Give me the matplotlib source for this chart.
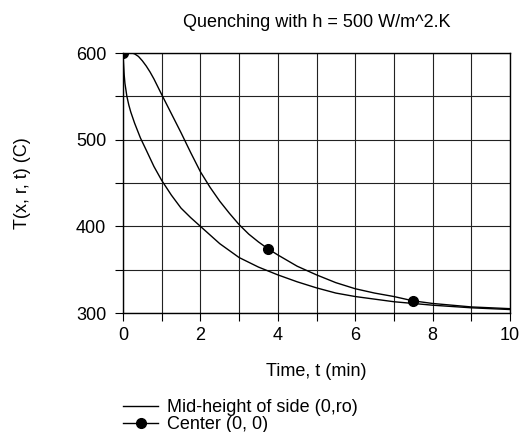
import numpy as np
import matplotlib
matplotlib.use("Agg")
import matplotlib.pyplot as plt

plt.rcParams['font.family'] = ['Liberation Sans', 'DejaVu Sans']

# ==========================
# DATA
# ==========================

title = "Quenching with h = 500 W/m^2.K"
x_label = "Time, t (min)"
y_label = "T(x, r, t) (C)"

side_label = "Mid-height of side (0,ro)"
side_t = [0, 0.01, 0.03, 0.05, 0.1, 0.15, 0.2, 0.3, 0.45, 0.6, 0.8, 1.0,
          1.25, 1.5, 1.75, 2.0, 2.5, 3.0, 3.5, 4.0, 4.5, 5.0, 5.5, 6.0,
          7.0, 8.0, 9.0, 10.0]
side_T = [600, 590, 575, 565, 550, 540, 532, 519, 502, 488, 469, 453,
          436, 421, 410, 400, 380, 364, 353, 344, 336, 329, 323, 319,
          313, 309, 306, 304]

center_label = "Center (0, 0)"
center_t = [0, 0.1, 0.2, 0.3, 0.4, 0.5, 0.6, 0.7, 0.8, 0.9, 1.0, 1.25,
            1.5, 1.75, 2.0, 2.25, 2.5, 2.75, 3.0, 3.25, 3.5, 3.75, 4.0,
            4.5, 5.0, 5.5, 6.0, 6.5, 7.0, 7.5, 8.0, 9.0, 10.0]
center_T = [600, 600.6, 600.5, 599, 596, 591, 585, 578, 570, 561, 552, 530,
            508, 485, 463, 445, 429, 415, 402, 391, 382, 374, 367,
            354, 344, 335, 328, 323, 319, 314, 311, 307, 305]
center_marks = [0, 21, 29]   # points at t = 0, 3.75, 7.5

x_major = [0, 2, 4, 6, 8, 10]
x_minor = [1, 3, 5, 7, 9]
y_major = [300, 400, 500, 600]
y_minor = [350, 450, 550]

# ==========================
# CHART
# ==========================

fs = 13
fig = plt.figure(figsize=(5.2, 4.32), dpi=100)
ax = fig.add_axes([123 / 520, 1 - 313 / 432, 387 / 520, 260 / 432])

ax.plot(side_t, side_T, color='black', lw=1.0, label=side_label)
ax.plot(center_t, center_T, color='black', lw=1.0, marker='o',
        markersize=7, markevery=center_marks, label=center_label)

ax.set_xlim(0, 10)
ax.set_ylim(300, 600)
ax.set_xticks(x_major)
ax.set_xticks(x_minor, minor=True)
ax.set_yticks(y_major)
ax.set_yticks(y_minor, minor=True)
ax.grid(True, which='both', color='#222222', lw=0.8)
ax.tick_params(which='both', direction='out', length=6, width=0.8,
               labelsize=fs)
ax.tick_params(axis='x', pad=4)
ax.tick_params(axis='y', pad=6)
for s in ax.spines.values():
    s.set_linewidth(1.0)

ax.set_title(title, fontsize=fs, pad=19)
ax.set_xlabel(x_label, fontsize=fs)
ax.xaxis.set_label_coords(0.5, -0.193)
ax.set_ylabel(y_label, fontsize=fs)
ax.yaxis.set_label_coords(-0.238, 0.5)

fig.legend(loc='upper left', bbox_to_anchor=(123 / 520, 1 - 399 / 432),
           frameon=False, fontsize=fs, labelspacing=0.0,
           handlelength=1.95, handletextpad=0.5, borderpad=0,
           borderaxespad=0)

fig.savefig("out.png", dpi=100)
